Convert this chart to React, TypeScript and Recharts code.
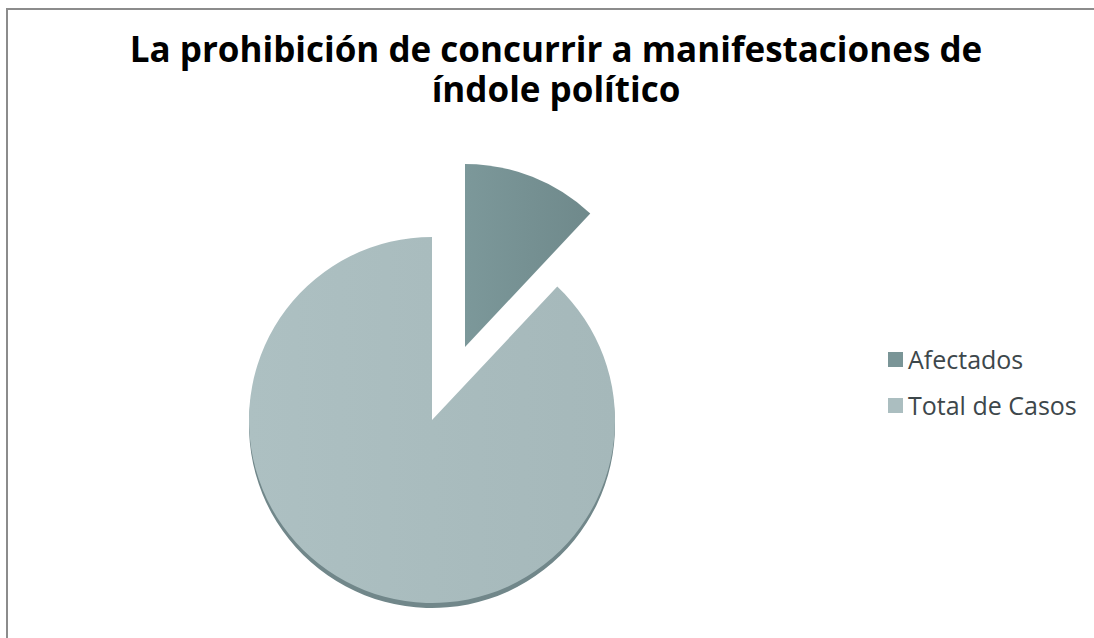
import React from 'react';
import { PieChart, Pie, Cell, Legend } from 'recharts';

// categorías y valores
const categories = ['Afectados', 'Total de Casos'];
const values = [12, 88];
const colors = ['#7a9597', '#abbec0'];
const shadowColor = '#71878a';

const titleLines = [
  'La prohibición de concurrir a manifestaciones de',
  'índole político'
];

const chartData = categories.map((name, i) => ({ name, value: values[i] }));

const FONT = '"Open Sans", "Noto Sans", sans-serif';

const LegendContent = () => (
  <div>
    {categories.map((name, i) => (
      <div
        key={name}
        style={{ display: 'flex', alignItems: 'center', height: 46 }}
      >
        <span
          style={{
            display: 'inline-block',
            width: 15,
            height: 15,
            background: colors[i],
            marginRight: 5
          }}
        />
        <span style={{ fontFamily: FONT, fontSize: 25, color: '#3d474b', lineHeight: '30px' }}>
          {name}
        </span>
      </div>
    ))}
  </div>
);

export default function App() {
  return (
    <div
      style={{
        position: 'absolute',
        left: 0,
        top: 0,
        width: 1094,
        height: 638,
        background: '#fff',
        overflow: 'hidden'
      }}
    >
      {/* marco del gráfico */}
      <div
        style={{
          position: 'absolute',
          left: 6,
          top: 8,
          width: 1200,
          height: 800,
          border: '2px solid #8c8c8c',
          boxSizing: 'border-box'
        }}
      />
      <div
        style={{
          position: 'absolute',
          left: 0,
          width: 1112,
          top: 29,
          textAlign: 'center',
          fontFamily: FONT,
          fontWeight: 700,
          fontSize: 35,
          lineHeight: '40px',
          color: '#000'
        }}
      >
        {titleLines[0]}
        <br />
        {titleLines[1]}
      </div>
      <div style={{ position: 'absolute', left: 0, top: 0 }}>
        <PieChart width={1094} height={638}>
          <defs>
            <linearGradient id="gradA" x1="0" y1="0" x2="1" y2="0">
              <stop offset="0%" stopColor="#7c989a" />
              <stop offset="100%" stopColor="#6f898b" />
            </linearGradient>
            <linearGradient id="gradT" x1="0" y1="0" x2="1" y2="0">
              <stop offset="0%" stopColor="#adc0c2" />
              <stop offset="100%" stopColor="#a5b8ba" />
            </linearGradient>
          </defs>
          {/* espesor 3D bajo el sector grande */}
          <Pie
            data={chartData}
            dataKey="value"
            nameKey="name"
            cx={427}
            cy={420}
            outerRadius={183}
            startAngle={90}
            endAngle={-270}
            isAnimationActive={false}
            legendType="none"
          >
            {chartData.map((d, i) => (
              <Cell key={d.name} fill={i === 1 ? shadowColor : 'none'} stroke="none" />
            ))}
          </Pie>
          <Pie
            data={chartData}
            dataKey="value"
            nameKey="name"
            cx={427}
            cy={415}
            outerRadius={183}
            startAngle={90}
            endAngle={-270}
            isAnimationActive={false}
          >
            {chartData.map((d, i) => (
              <Cell key={d.name} fill={i === 1 ? 'url(#gradT)' : 'none'} stroke="none" />
            ))}
          </Pie>
          {/* sector separado */}
          <Pie
            data={chartData}
            dataKey="value"
            nameKey="name"
            cx={460}
            cy={342}
            outerRadius={183}
            startAngle={90}
            endAngle={-270}
            isAnimationActive={false}
            legendType="none"
          >
            {chartData.map((d, i) => (
              <Cell key={d.name} fill={i === 0 ? 'url(#gradA)' : 'none'} stroke="none" />
            ))}
          </Pie>
          <Legend
            layout="vertical"
            content={<LegendContent />}
            wrapperStyle={{ position: 'absolute', left: 888, top: 336, width: 206 }}
          />
        </PieChart>
      </div>
    </div>
  );
}
